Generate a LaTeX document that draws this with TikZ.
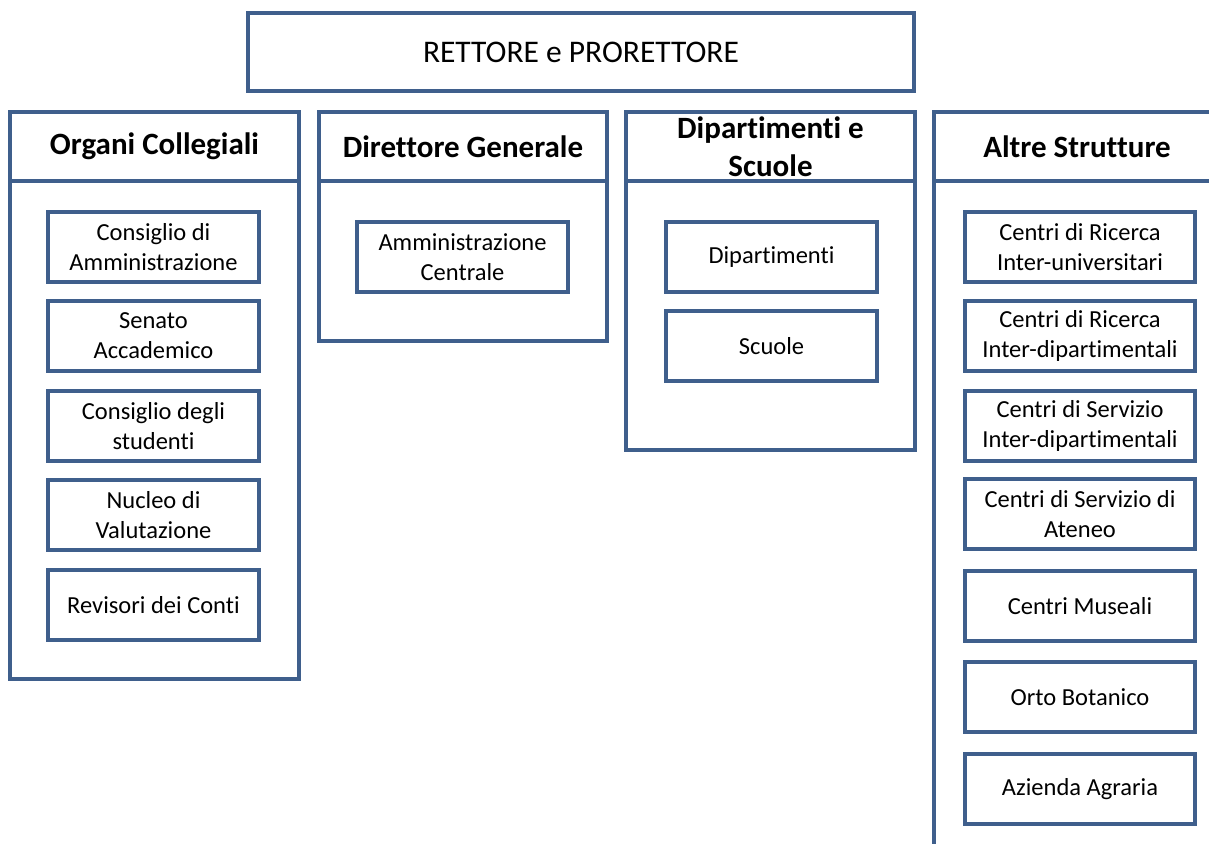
\documentclass[tikz,border=0pt]{standalone}
\usepackage{fontspec}
\setmainfont{Carlito}[Ligatures=NoCommon]
\definecolor{frameblue}{HTML}{3F5F8C}
\tikzset{
    box/.style={draw=frameblue, line width=3.2pt, rectangle, anchor=north west,
        inner sep=0pt, outer sep=0pt, align=center, text=black},
    groupbox/.style={box, font=\fontsize{31}{38}\selectfont\bfseries},
    unitbox/.style={box, minimum height=70pt, font=\fontsize{24.5}{30}\selectfont},
}
\begin{document}
\begin{tikzpicture}
    [x=1pt, y=-1pt]
    \clip (0,0) rectangle (1209,843);
    \fill[white] (0,0) rectangle (1209,843);
    % top
    \node[box, minimum width=666pt, minimum height=78pt,
        font=\fontsize{31.5}{36}\selectfont] (rector) at (248,13) {RETTORE e PRORETTORE};
    % columns
    \node[box, minimum width=289pt, minimum height=567pt] (organi) at (10,112) {};
    \node[groupbox, minimum width=289pt, minimum height=69pt] (organiHead) at (10,112) {Organi Collegiali};
    \node[box, minimum width=288pt, minimum height=229pt] (direttore) at (319,112) {};
    \node[groupbox, minimum width=288pt, minimum height=69pt] (direttoreHead) at (319,112) {Direttore Generale};
    \node[box, minimum width=289pt, minimum height=338pt] (dipart) at (626,112) {};
    \node[groupbox, minimum width=289pt, minimum height=69pt] (dipartHead) at (626,112) {Dipartimenti e\\Scuole};
    \node[box, minimum width=286pt, minimum height=760pt] (altre) at (934,112) {};
    \node[groupbox, minimum width=286pt, minimum height=69pt] (altreHead) at (934,112) {Altre Strutture};
    % organi collegiali
    \node[unitbox, minimum width=211pt] (cda) at (48,212) {Consiglio di\\Amministrazione};
    \node[unitbox, minimum width=211pt] (senato) at (48,301) {Senato\\Accademico};
    \node[unitbox, minimum width=211pt] (studenti) at (48,391) {Consiglio degli\\studenti};
    \node[unitbox, minimum width=211pt] (nucleo) at (48,480) {Nucleo di\\Valutazione};
    \node[unitbox, minimum width=211pt] (revisori) at (48,570) {Revisori dei Conti};
    % direttore generale
    \node[unitbox, minimum width=211pt] (amm) at (357,222) {Amministrazione\\Centrale};
    % dipartimenti e scuole
    \node[unitbox, minimum width=211pt] (dip) at (666,222) {Dipartimenti};
    \node[unitbox, minimum width=211pt] (scuole) at (666,311) {Scuole};
    % altre strutture
    \node[unitbox, minimum width=230pt] (ricUni) at (965,212) {Centri di Ricerca\\Inter-universitari};
    \node[unitbox, minimum width=230pt] (ricDip) at (965,301) {Centri di Ricerca\\Inter-dipartimentali};
    \node[unitbox, minimum width=230pt] (servDip) at (965,391) {Centri di Servizio\\Inter-dipartimentali};
    \node[unitbox, minimum width=230pt] (servAt) at (965,479) {Centri di Servizio di\\Ateneo};
    \node[unitbox, minimum width=230pt] (musei) at (965,571) {Centri Museali};
    \node[unitbox, minimum width=230pt] (orto) at (965,662) {Orto Botanico};
    \node[unitbox, minimum width=230pt] (azienda) at (965,754) {Azienda Agraria};
\end{tikzpicture}
\end{document}
